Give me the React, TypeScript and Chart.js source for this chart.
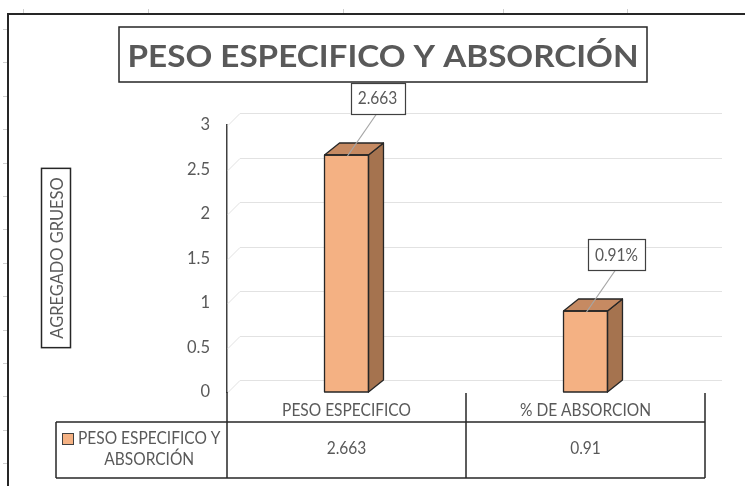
import { useEffect, useRef } from "react";
import { Chart, registerables } from "chart.js";

Chart.register(...registerables);

// ---- chart content ----
const chartTitle = "PESO ESPECIFICO Y ABSORCIÓN";
const axisTitle = "AGREGADO GRUESO";
const seriesName = "PESO ESPECIFICO Y ABSORCIÓN";
const categories = ["PESO ESPECIFICO", "% DE ABSORCION"];
const values = [2.663, 0.91];
const pointLabels = ["2.663", "0.91%"];
const tableValues = ["2.663", "0.91"];
const yTicks = [0, 0.5, 1, 1.5, 2, 2.5, 3];

// ---- styling ----
const FONT = 'Lato, "Open Sans", "DejaVu Sans", sans-serif';
const TEXT = "#595959";
const INK = "#262626";
const FRONT = "#F4B183";
const SIDE = "#A5734F";
const TOPFACE = "#C68A62";
const BAR_DEPTH = { dx: 15, dy: -12 };
const WALL_DEPTH = { dx: 13, dy: -12 };
const SHEET_COLS = [23, 148, 343, 503, 627];
const NARROW = 0.94; // horizontal squeeze for body text

function hLine(ctx: CanvasRenderingContext2D, x1: number, x2: number, y: number) {
  ctx.beginPath();
  ctx.moveTo(x1, y);
  ctx.lineTo(x2, y);
  ctx.stroke();
}
function vLine(ctx: CanvasRenderingContext2D, x: number, y1: number, y2: number) {
  ctx.beginPath();
  ctx.moveTo(x, y1);
  ctx.lineTo(x, y2);
  ctx.stroke();
}

function drawText(
  ctx: CanvasRenderingContext2D,
  text: string,
  x: number,
  y: number,
  size: number,
  align: CanvasTextAlign = "center",
  weight = "normal",
  sx = NARROW
) {
  ctx.save();
  ctx.font = `${weight} ${size}px ${FONT}`;
  ctx.fillStyle = TEXT;
  ctx.textAlign = align;
  ctx.textBaseline = "alphabetic";
  ctx.translate(x, y);
  ctx.scale(sx, 1);
  ctx.fillText(text, 0, 0);
  ctx.restore();
}

function textWidth(ctx: CanvasRenderingContext2D, text: string, size: number, sx = NARROW) {
  ctx.font = `normal ${size}px ${FONT}`;
  return ctx.measureText(text).width * sx;
}

function wrapWords(ctx: CanvasRenderingContext2D, text: string, size: number, maxW: number) {
  const words = text.split(" ");
  const lines: string[] = [];
  let cur = "";
  for (const w of words) {
    const t = cur ? cur + " " + w : w;
    if (cur && textWidth(ctx, t, size) > maxW) {
      lines.push(cur);
      cur = w;
    } else cur = t;
  }
  if (cur) lines.push(cur);
  return lines;
}

const excelLook = {
  id: "excelLook",
  beforeDraw(chart: Chart) {
    const ctx = chart.ctx;
    ctx.save();
    ctx.fillStyle = "#ffffff";
    ctx.fillRect(0, 0, chart.width, chart.height);
    // faint worksheet cell marks around the chart frame
    ctx.strokeStyle = "#CFCFCF";
    ctx.lineWidth = 1;
    for (let y = 29; y < chart.height; y += 33.4) hLine(ctx, 3, 8, Math.round(y) + 0.5);
    for (const x of SHEET_COLS) vLine(ctx, x + 0.5, 9, 14);
    // chart frame
    ctx.strokeStyle = INK;
    ctx.lineWidth = 2;
    ctx.beginPath();
    ctx.moveTo(8, chart.height);
    ctx.lineTo(8, 14);
    ctx.lineTo(chart.width, 14);
    ctx.stroke();
    ctx.restore();
  },
  beforeDatasetsDraw(chart: Chart) {
    const ctx = chart.ctx;
    const area = chart.chartArea;
    const y = chart.scales.y;
    ctx.save();
    ctx.strokeStyle = "#E2E2E2";
    ctx.lineWidth = 1;
    for (const t of yTicks) {
      const py = Math.round(y.getPixelForValue(t)) + 0.5;
      ctx.beginPath();
      ctx.moveTo(area.left + 1, py);
      ctx.lineTo(area.left + WALL_DEPTH.dx, py + WALL_DEPTH.dy);
      ctx.lineTo(area.right + 17, py + WALL_DEPTH.dy);
      ctx.stroke();
    }
    ctx.restore();
  },
  afterDatasetsDraw(chart: Chart) {
    const ctx = chart.ctx;
    const meta = chart.getDatasetMeta(0);
    const { dx, dy } = BAR_DEPTH;
    ctx.save();
    ctx.strokeStyle = INK;
    ctx.lineWidth = 1.3;
    ctx.lineJoin = "round";
    meta.data.forEach((el: any) => {
      const { x, y, base, width } = el.getProps(["x", "y", "base", "width"], true);
      const l = x - width / 2;
      const r = x + width / 2;
      // side face
      ctx.beginPath();
      ctx.moveTo(r, y);
      ctx.lineTo(r + dx, y + dy);
      ctx.lineTo(r + dx, base + dy);
      ctx.lineTo(r, base);
      ctx.closePath();
      ctx.fillStyle = SIDE;
      ctx.fill();
      ctx.stroke();
      // top face
      ctx.beginPath();
      ctx.moveTo(l, y);
      ctx.lineTo(l + dx, y + dy);
      ctx.lineTo(r + dx, y + dy);
      ctx.lineTo(r, y);
      ctx.closePath();
      ctx.fillStyle = TOPFACE;
      ctx.fill();
      ctx.stroke();
      // front outline
      ctx.strokeRect(l, y, width, base - y);
    });
    ctx.restore();
  },
  afterDraw(chart: Chart) {
    const ctx = chart.ctx;
    const area = chart.chartArea;
    ctx.save();

    // title box
    const tb = { l: 119, t: 27, r: 647, b: 82 };
    ctx.strokeStyle = INK;
    ctx.lineWidth = 1.5;
    ctx.fillStyle = "#fff";
    ctx.fillRect(tb.l, tb.t, tb.r - tb.l, tb.b - tb.t);
    ctx.strokeRect(tb.l, tb.t, tb.r - tb.l, tb.b - tb.t);
    ctx.font = `bold 30px ${FONT}`;
    const tw = ctx.measureText(chartTitle).width;
    const fitW = tb.r - tb.l - 17;
    drawText(ctx, chartTitle, (tb.l + tb.r) / 2, 67, 30, "center", "bold", fitW / tw);

    // axis title box (rotated)
    const ax = 56, ay = 258;
    const aw = textWidth(ctx, axisTitle, 17.5);
    ctx.strokeStyle = INK;
    ctx.lineWidth = 1.5;
    ctx.strokeRect(ax - 14.5, ay - aw / 2 - 9, 29, aw + 18);
    ctx.save();
    ctx.translate(ax, ay);
    ctx.rotate(-Math.PI / 2);
    drawText(ctx, axisTitle, 0, 6.5, 17.5);
    ctx.restore();

    // value callouts
    const meta = chart.getDatasetMeta(0);
    meta.data.forEach((el: any, i: number) => {
      const { x, y } = el.getProps(["x", "y"], true);
      const w = textWidth(ctx, pointLabels[i], 16.5) + 14;
      const h = 31;
      const cx = x + 31;
      const bottom = y - 41;
      ctx.strokeStyle = "#A6A6A6";
      ctx.lineWidth = 1.2;
      ctx.beginPath();
      ctx.moveTo(cx - 1, bottom);
      ctx.lineTo(x + 1, y + 1);
      ctx.stroke();
      ctx.fillStyle = "#fff";
      ctx.fillRect(cx - w / 2, bottom - h, w, h);
      ctx.strokeStyle = "#404040";
      ctx.lineWidth = 1.2;
      ctx.strokeRect(Math.round(cx - w / 2) + 0.5, Math.round(bottom - h) + 0.5, Math.round(w), h);
      drawText(ctx, pointLabels[i], cx, bottom - 9.5, 16.5);
    });

    // data table
    const n = categories.length;
    const cw = (area.right - area.left) / n;
    const headTop = area.bottom;
    const headBottom = headTop + 30;
    const rowBottom = headBottom + 56;
    const legendLeft = 56;
    ctx.strokeStyle = INK;
    ctx.lineWidth = 1.5;
    hLine(ctx, legendLeft, area.right, headBottom);
    hLine(ctx, legendLeft, area.right, rowBottom);
    vLine(ctx, legendLeft, headBottom, rowBottom);
    vLine(ctx, area.left, headTop, rowBottom);
    for (let k = 1; k <= n; k++) vLine(ctx, area.left + k * cw, headTop + 1, rowBottom);

    for (let i = 0; i < n; i++) {
      const cx = area.left + (i + 0.5) * cw;
      drawText(ctx, categories[i], cx, headTop + 24, 16.5);
      drawText(ctx, tableValues[i], cx, headBottom + 32, 16.5);
    }

    // legend key inside the table
    const lines = wrapWords(ctx, seriesName, 16.5, 148);
    const textLeft = legendLeft + 22;
    const firstW = textWidth(ctx, lines[0], 16.5);
    const textMid = textLeft + firstW / 2;
    ctx.fillStyle = FRONT;
    ctx.fillRect(legendLeft + 6.5, headBottom + 11.5, 11, 11);
    ctx.strokeStyle = "#404040";
    ctx.lineWidth = 1;
    ctx.strokeRect(legendLeft + 6.5, headBottom + 11.5, 11, 11);
    lines.forEach((ln, k) => {
      if (k === 0) drawText(ctx, ln, textLeft, headBottom + 22, 16.5, "left");
      else drawText(ctx, ln, textMid, headBottom + 22 + k * 21, 16.5);
    });

    ctx.restore();
  },
};

export default function App() {
  const canvasRef = useRef<HTMLCanvasElement | null>(null);

  useEffect(() => {
    const canvas = canvasRef.current;
    if (!canvas) return;
    const chart = new Chart(canvas, {
      type: "bar",
      data: {
        labels: categories,
        datasets: [
          {
            label: seriesName,
            data: values,
            backgroundColor: FRONT,
            borderWidth: 0,
            barPercentage: 0.184,
            categoryPercentage: 1,
          },
        ],
      },
      options: {
        responsive: false,
        animation: false,
        devicePixelRatio: 1,
        layout: { padding: { top: 125, bottom: 94, left: 0, right: 40 } },
        plugins: {
          legend: { display: false },
          title: { display: false },
          tooltip: { enabled: false },
        },
        scales: {
          x: { display: false },
          y: {
            min: 0,
            max: 3,
            afterBuildTicks: (axis: any) => {
              axis.ticks = yTicks.map((v) => ({ value: v }));
            },
            afterFit: (axis: any) => {
              axis.width = 227;
            },
            ticks: {
              color: TEXT,
              padding: 17,
              font: { family: FONT, size: 16.5 },
              callback: (v: any) => String(v),
            },
            grid: { display: false, drawTicks: false },
            border: { display: true, color: "#404040", width: 1.5 },
          },
        },
      },
      plugins: [excelLook],
    });
    return () => chart.destroy();
  }, []);

  return (
    <div style={{ position: "fixed", left: 0, top: 0, width: 745, height: 486, background: "#fff" }}>
      <canvas ref={canvasRef} width={745} height={486} style={{ display: "block" }} />
    </div>
  );
}
